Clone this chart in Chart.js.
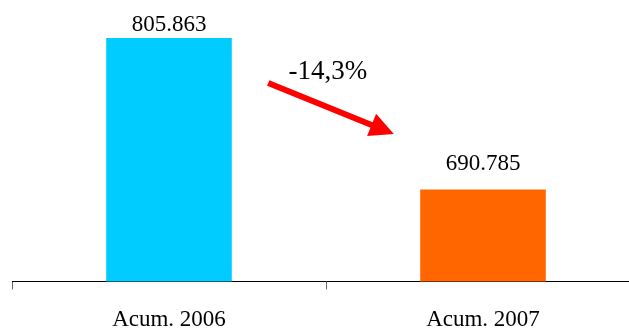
<!DOCTYPE html>
<html>
<head>
<meta charset="utf-8">
<script src="https://cdn.jsdelivr.net/npm/chart.js@4/dist/chart.umd.min.js"></script>
<style>
  html, body { margin: 0; padding: 0; background: #fff; overflow: hidden; }
  #wrap { width: 645px; height: 351px; position: relative; }
</style>
</head>
<body>
<div id="wrap"><canvas id="chart"></canvas></div>
<script>
'use strict';

// data
const categories = ['Acum. 2006', 'Acum. 2007'];
const values = [805863, 690785];
const valueLabels = ['805.863', '690.785'];
const barColors = ['#00CCFF', '#FF6600'];
const changeLabel = '-14,3%';

const FONT = "'Liberation Serif', 'Times New Roman', serif";

// etiquetas de valor encima de cada barra + flecha de variacion
const annotations = {
    id: 'annotations',
    afterDatasetsDraw(chart) {
        const ctx = chart.ctx;
        const meta = chart.getDatasetMeta(0);
        const gaps = [13, 26];
        ctx.save();
        ctx.fillStyle = '#000';
        ctx.font = '23px ' + FONT;
        ctx.textAlign = 'center';
        ctx.textBaseline = 'middle';
        meta.data.forEach((bar, i) => {
            ctx.fillText(valueLabels[i], bar.x, bar.y - gaps[i]);
        });

        // flecha roja
        const area = chart.chartArea;
        const w = area.right - area.left;
        const x1 = area.left + w * 0.408, y1 = 83;
        const x2 = area.left + w * 0.608, y2 = 134;
        const ang = Math.atan2(y2 - y1, x2 - x1);
        const headLen = 24, headW = 12;
        const bx = x2 - headLen * Math.cos(ang), by = y2 - headLen * Math.sin(ang);
        ctx.strokeStyle = '#FF0000';
        ctx.fillStyle = '#FF0000';
        ctx.lineWidth = 6;
        ctx.beginPath();
        ctx.moveTo(x1, y1);
        ctx.lineTo(bx + 2 * Math.cos(ang), by + 2 * Math.sin(ang));
        ctx.stroke();
        ctx.beginPath();
        ctx.moveTo(x2, y2);
        ctx.lineTo(bx + headW * Math.sin(ang), by - headW * Math.cos(ang));
        ctx.lineTo(bx - headW * Math.sin(ang), by + headW * Math.cos(ang));
        ctx.closePath();
        ctx.fill();

        ctx.fillStyle = '#000';
        ctx.font = '27px ' + FONT;
        ctx.fillText(changeLabel, area.left + w * 0.503, 72);
        ctx.restore();
    }
};

new Chart(document.getElementById('chart'), {
    type: 'bar',
    data: {
        labels: categories,
        datasets: [{
            data: values,
            backgroundColor: barColors,
            borderWidth: 0,
            barPercentage: 0.4,
            categoryPercentage: 1
        }]
    },
    options: {
        responsive: true,
        maintainAspectRatio: false,
        animation: false,
        layout: { padding: { left: 12, right: 5, top: 0, bottom: 0 } },
        plugins: { legend: { display: false }, tooltip: { enabled: false } },
        scales: {
            x: {
                grid: {
                    display: true,
                    offset: true,
                    drawOnChartArea: false,
                    tickLength: 8,
                    color: '#666',
                    lineWidth: 1
                },
                border: { display: true, color: '#000', width: 1 },
                ticks: {
                    color: '#000',
                    padding: 17,
                    font: { family: FONT, size: 23 }
                }
            },
            y: {
                display: false,
                min: 621100,
                max: 834600
            }
        }
    },
    plugins: [annotations]
});
</script>
</body>
</html>
